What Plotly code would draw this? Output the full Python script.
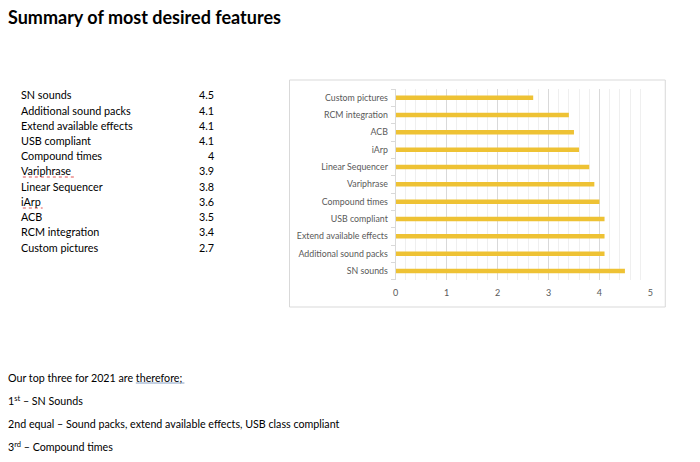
import plotly.graph_objects as go

features = ["SN sounds", "Additional sound packs", "Extend available effects", "USB compliant",
            "Compound times", "Variphrase", "Linear Sequencer", "iArp", "ACB",
            "RCM integration", "Custom pictures"]
scores = [4.5, 4.1, 4.1, 4.1, 4.0, 3.9, 3.8, 3.6, 3.5, 3.4, 2.7]
score_labels = ["4.5", "4.1", "4.1", "4.1", "4", "3.9", "3.8", "3.6", "3.5", "3.4", "2.7"]
x_ticks = [0, 1, 2, 3, 4, 5]

title_text = "Summary of most desired features"
body_lines = [
    "Our top three for 2021 are therefore;",
    "1<sup>st</sup> – SN Sounds",
    "2nd equal – Sound packs, extend available effects, USB class compliant",
    "3<sup>rd</sup> – Compound times",
]

W, H = 700, 462
def px(x): return x / W
def py(y): return 1 - y / H

BODY_FONT = "Lato, Calibri, sans-serif"

fig = go.Figure()
fig.add_trace(go.Bar(
    x=scores, y=features, orientation="h",
    marker=dict(color="#EEC234", line=dict(width=0)),
    width=0.26, hoverinfo="x+y",
))

annotations = []
annotations.append(dict(text="<b>" + title_text + "</b>", x=px(3), y=py(17), xref="paper", yref="paper",
                        xanchor="left", yanchor="middle", showarrow=False,
                        font=dict(family=BODY_FONT, size=18, color="#000000")))
for i, (f, s) in enumerate(zip(features, score_labels)):
    yy = 95 + i * 15.2
    annotations.append(dict(text=f, x=px(16), y=py(yy), xref="paper", yref="paper",
                            xanchor="left", yanchor="middle", showarrow=False,
                            font=dict(family=BODY_FONT, size=10.8, color="#000000")))
    annotations.append(dict(text=s, x=px(215), y=py(yy), xref="paper", yref="paper",
                            xanchor="right", yanchor="middle", showarrow=False,
                            font=dict(family=BODY_FONT, size=10.8, color="#000000")))
for i, line in enumerate(body_lines):
    yy = 377 + i * 23.3
    annotations.append(dict(text=line, x=px(3), y=py(yy), xref="paper", yref="paper",
                            xanchor="left", yanchor="middle", showarrow=False,
                            font=dict(family=BODY_FONT, size=10.7, color="#000000")))

shapes = [
    dict(type="rect", xref="paper", yref="paper", x0=px(289), x1=px(668), y0=py(80), y1=py(307),
         line=dict(color="#d9d9d9", width=1), fillcolor="rgba(0,0,0,0)", layer="below"),
    # spelling / grammar underlines
    dict(type="line", xref="paper", yref="paper", x0=px(20), x1=px(72), y0=py(177), y1=py(177),
         line=dict(color="#e05050", width=1, dash="dot")),
    dict(type="line", xref="paper", yref="paper", x0=px(20), x1=px(40), y0=py(208), y1=py(208),
         line=dict(color="#e05050", width=1, dash="dot")),
    dict(type="line", xref="paper", yref="paper", x0=px(134), x1=px(183), y0=py(383), y1=py(383),
         line=dict(color="#8aa4c8", width=1)),
]

fig.update_layout(
    width=W, height=H,
    margin=dict(l=0, r=0, t=0, b=0),
    paper_bgcolor="white", plot_bgcolor="white",
    showlegend=False,
    annotations=annotations, shapes=shapes,
    xaxis=dict(domain=[px(396), px(653)], range=[0, 5], tickvals=x_ticks,
               showgrid=True, gridcolor="#d9d9d9", gridwidth=1,
               minor=dict(dtick=0.2, showgrid=True, gridcolor="#efefef", gridwidth=1),
               zeroline=False, showline=False, ticks="",
               tickfont=dict(family=BODY_FONT, size=9, color="#595959"),
               ticklabelstandoff=6, fixedrange=True),
    yaxis=dict(domain=[py(279.7), py(89)], type="category",
               showgrid=False, zeroline=False, showline=True, linecolor="#d9d9d9", linewidth=1,
               ticks="outside", tickson="boundaries", ticklen=4, tickcolor="#d9d9d9",
               tickfont=dict(family=BODY_FONT, size=8.8, color="#595959"),
               ticklabelstandoff=5, fixedrange=True),
    bargap=0.74,
)

fig.write_html("out.html")
